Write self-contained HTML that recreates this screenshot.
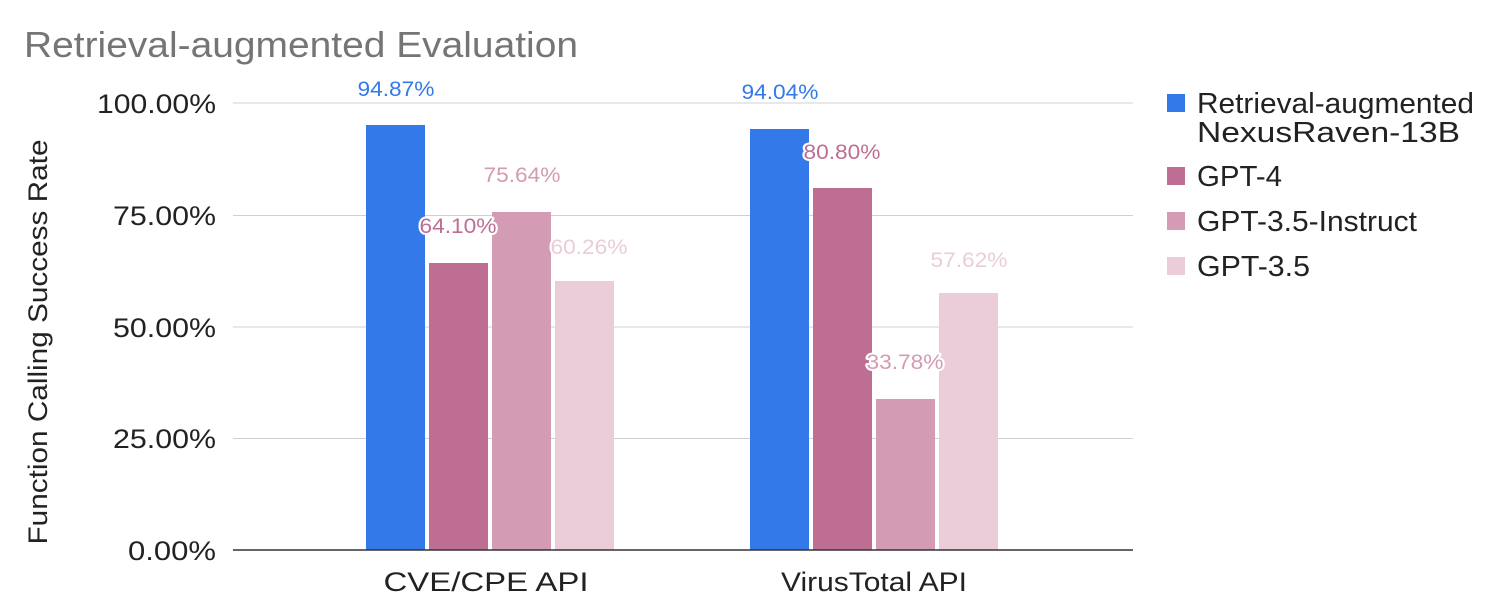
<!DOCTYPE html>
<html><head><meta charset="utf-8"><style>
html,body{margin:0;padding:0;background:#fff;}
svg{display:block;font-family:"Liberation Sans",Arial,sans-serif;}
.v{font-size:21px;text-anchor:middle;paint-order:stroke;stroke:#fff;stroke-width:4px;stroke-linejoin:round;}
</style></head><body>
<svg width="1494" height="607" viewBox="0 0 1494 607" xmlns="http://www.w3.org/2000/svg">
<rect width="1494" height="607" fill="#fff"/>
<text x="24" y="57" font-size="36" fill="#757575" textLength="554" lengthAdjust="spacingAndGlyphs">Retrieval-augmented Evaluation</text>
<g stroke="#d0d0d0" stroke-width="1">
<line x1="233" x2="1133" y1="103" y2="103"/>
<line x1="233" x2="1133" y1="215.5" y2="215.5"/>
<line x1="233" x2="1133" y1="327" y2="327"/>
<line x1="233" x2="1133" y1="438.5" y2="438.5"/>
</g>
<g font-size="27" fill="#222" text-anchor="end">
<text x="216" y="113" textLength="119" lengthAdjust="spacingAndGlyphs">100.00%</text>
<text x="216" y="225" textLength="103" lengthAdjust="spacingAndGlyphs">75.00%</text>
<text x="216" y="337" textLength="103" lengthAdjust="spacingAndGlyphs">50.00%</text>
<text x="216" y="448" textLength="103" lengthAdjust="spacingAndGlyphs">25.00%</text>
<text x="216" y="560" textLength="88" lengthAdjust="spacingAndGlyphs">0.00%</text>
</g>
<text transform="translate(47,342) rotate(-90)" font-size="27" fill="#222" text-anchor="middle" textLength="405" lengthAdjust="spacingAndGlyphs">Function Calling Success Rate</text>
<rect x="366" y="125" width="59" height="425" fill="#3479EA"/>
<rect x="429" y="263" width="59" height="287" fill="#BE6E93"/>
<rect x="492" y="212" width="59" height="338" fill="#D49BB5"/>
<rect x="555" y="281" width="59" height="269" fill="#EACDD9"/>
<rect x="750" y="129" width="59" height="421" fill="#3479EA"/>
<rect x="813" y="188" width="59" height="362" fill="#BE6E93"/>
<rect x="876" y="399" width="59" height="151" fill="#D49BB5"/>
<rect x="939" y="293" width="59" height="257" fill="#EACDD9"/>
<line x1="233" x2="1133" y1="550" y2="550" stroke="#333" stroke-width="1.5"/>
<text class="v" x="396" y="96" fill="#3479EA" textLength="77" lengthAdjust="spacingAndGlyphs">94.87%</text>
<text class="v" x="458" y="233" fill="#BE6E93" textLength="77" lengthAdjust="spacingAndGlyphs">64.10%</text>
<text class="v" x="522" y="182" fill="#D49BB5" textLength="77" lengthAdjust="spacingAndGlyphs">75.64%</text>
<text class="v" x="589" y="254" fill="#EACDD9" textLength="77" lengthAdjust="spacingAndGlyphs">60.26%</text>
<text class="v" x="780" y="99" fill="#3479EA" textLength="77" lengthAdjust="spacingAndGlyphs">94.04%</text>
<text class="v" x="842" y="159" fill="#BE6E93" textLength="77" lengthAdjust="spacingAndGlyphs">80.80%</text>
<text class="v" x="905" y="369" fill="#D49BB5" textLength="77" lengthAdjust="spacingAndGlyphs">33.78%</text>
<text class="v" x="969" y="267" fill="#EACDD9" textLength="77" lengthAdjust="spacingAndGlyphs">57.62%</text>
<g font-size="27" fill="#222" text-anchor="middle">
<text x="486" y="591" textLength="205" lengthAdjust="spacingAndGlyphs">CVE/CPE API</text>
<text x="874" y="591" textLength="186" lengthAdjust="spacingAndGlyphs">VirusTotal API</text>
</g>
<g font-size="29" fill="#222">
<rect x="1167" y="94" width="18" height="18" fill="#3479EA"/>
<text x="1197" y="113" textLength="277" lengthAdjust="spacingAndGlyphs">Retrieval-augmented</text>
<text x="1197" y="142" textLength="263" lengthAdjust="spacingAndGlyphs">NexusRaven-13B</text>
<rect x="1167" y="167" width="18" height="18" fill="#BE6E93"/>
<text x="1197" y="186" textLength="85" lengthAdjust="spacingAndGlyphs">GPT-4</text>
<rect x="1167" y="212" width="18" height="18" fill="#D49BB5"/>
<text x="1197" y="231" textLength="220" lengthAdjust="spacingAndGlyphs">GPT-3.5-Instruct</text>
<rect x="1167" y="257" width="18" height="18" fill="#EACDD9"/>
<text x="1197" y="276" textLength="113" lengthAdjust="spacingAndGlyphs">GPT-3.5</text>
</g>
</svg>
</body></html>
